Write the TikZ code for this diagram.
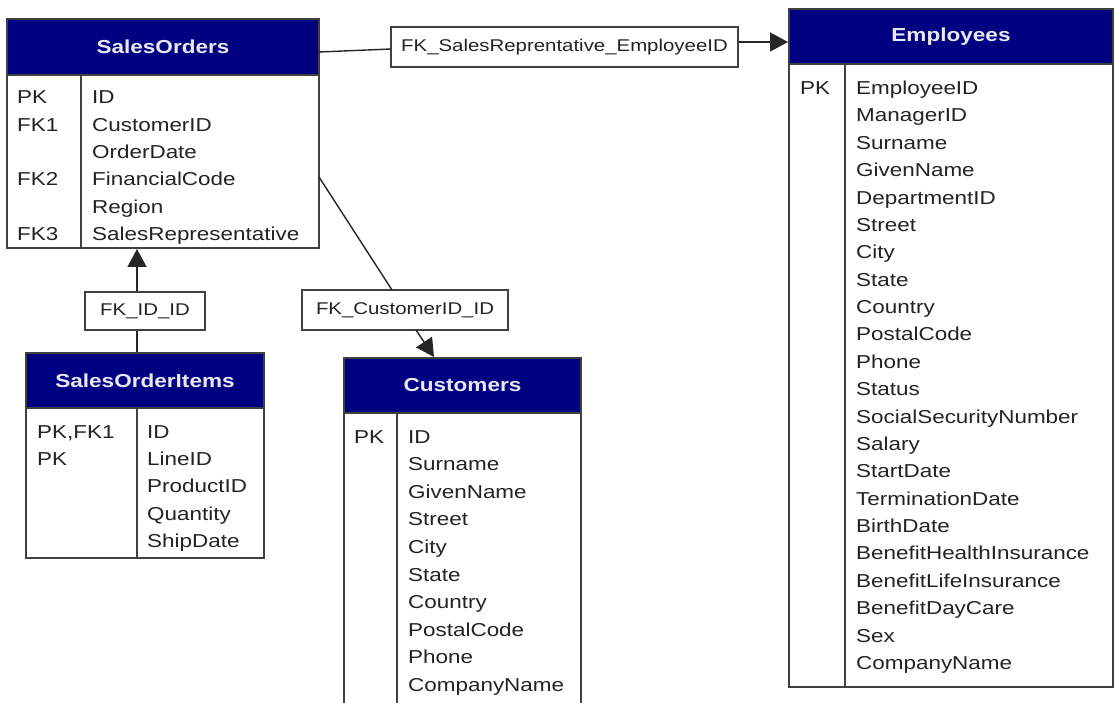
\documentclass[tikz,border=0pt]{standalone}
\usepackage{fontspec}
\setmainfont[FakeStretch=1.2]{Liberation Sans}
\usetikzlibrary{arrows.meta,calc}
\definecolor{hdrblue}{RGB}{0,0,128}
\definecolor{hdrtext}{RGB}{232,232,246}
\definecolor{edge}{RGB}{64,64,64}
\definecolor{txt}{RGB}{35,35,35}
\tikzset{
  hdr/.style={draw=edge, line width=2pt, fill=hdrblue, text=hdrtext, inner sep=0pt,
    font=\fontsize{18.8pt}{20pt}\selectfont\bfseries},
  tbody/.style={draw=edge, line width=2pt, fill=white, inner sep=0pt},
  fld/.style={anchor=base west, inner sep=0pt, text=txt, font=\fontsize{18.7pt}{20pt}\selectfont},
  lbl/.style={draw=edge, line width=1.5pt, fill=white, inner sep=0pt, text=txt,
    font=\fontsize{17pt}{19pt}\selectfont},
  divider/.style={draw=edge, line width=2pt},
  conn/.style={draw=black!85, line width=1.4pt},
  arr/.style={-{Triangle[length=18pt,width=19pt]}}
}
\begin{document}
\begin{tikzpicture}[x=1pt,y=-1pt]
\useasboundingbox (0,0) rectangle (1116,703);
\clip (0,0) rectangle (1116,703);

% ---------- SalesOrders ----------
\node[tbody, minimum width=312pt, minimum height=173pt] (sob) at (163,161.5) {};
\node[hdr, minimum width=312pt, minimum height=56pt] (soh) at (163,47) {SalesOrders};
\draw[divider] (81,75) -- (81,248);
\foreach \k/\i in {PK/0,FK1/1,FK2/3,FK3/5}
  \node[fld] (sok\i) at (17,{104+27.3*\i}) {\k};
\foreach \t [count=\i from 0] in {ID,CustomerID,OrderDate,FinancialCode,Region,SalesRepresentative}
  \node[fld] (sof\i) at (92,{104+27.3*\i}) {\t};

% ---------- Employees ----------
\node[tbody, minimum width=324pt, minimum height=623pt] (emb) at (951,375.5) {};
\node[hdr, minimum width=324pt, minimum height=55pt] (emh) at (951,36.5) {Employees};
\draw[divider] (845,64) -- (845,687);
\node[fld] (emk0) at (800,94.5) {PK};
\foreach \t [count=\i from 0] in {EmployeeID,ManagerID,Surname,GivenName,DepartmentID,Street,City,State,Country,PostalCode,Phone,Status,SocialSecurityNumber,Salary,StartDate,TerminationDate,BirthDate,BenefitHealthInsurance,BenefitLifeInsurance,BenefitDayCare,Sex,CompanyName}
  \node[fld] (emf\i) at (856,{94.5+27.38*\i}) {\t};

% ---------- SalesOrderItems ----------
\node[tbody, minimum width=238pt, minimum height=150pt] (soib) at (145,483) {};
\node[hdr, minimum width=238pt, minimum height=55pt] (soih) at (145,380.5) {SalesOrderItems};
\draw[divider] (137,408) -- (137,558);
\node[fld] (soik0) at (37,438) {PK,FK1};
\node[fld] (soik1) at (37,465.4) {PK};
\foreach \t [count=\i from 0] in {ID,LineID,ProductID,Quantity,ShipDate}
  \node[fld] (soif\i) at (147,{438+27.4*\i}) {\t};

% ---------- Customers ----------
\node[tbody, minimum width=237pt, minimum height=320pt] (cub) at (462.5,573) {};
\node[hdr, minimum width=237pt, minimum height=55pt] (cuh) at (462.5,385.5) {Customers};
\draw[divider] (397,413) -- (397,740);
\node[fld] (cuk0) at (354,443) {PK};
\foreach \t [count=\i from 0] in {ID,Surname,GivenName,Street,City,State,Country,PostalCode,Phone,CompanyName}
  \node[fld] (cuf\i) at (408,{443+27.6*\i}) {\t};

% ---------- Relationship labels ----------
\node[lbl, minimum width=347pt, minimum height=40pt] (l1) at (564.5,47) {FK\_SalesReprentative\_EmployeeID};
\node[lbl, minimum width=120pt, minimum height=38pt] (l2) at (145,311) {FK\_ID\_ID};
\node[lbl, minimum width=206pt, minimum height=40pt] (l3) at (405,310) {FK\_CustomerID\_ID};

% ---------- Connectors ----------
\coordinate (c1a) at (319,52);
\coordinate (c1b) at (391,49);
\draw[conn] (c1a) -- (c1b);
\draw[conn,arr] (l1.east |- 0,42) -- (emh.west |- 0,42);

\draw[conn] (soih.north -| 137,0) -- (l2.south -| 137,0);
\draw[conn,arr] (l2.north -| 137,0) -- (sob.south -| 137,0);

\coordinate (c3a) at (319,177);
\coordinate (c3b) at (392,290);
\draw[conn] (c3a) -- (c3b);
\coordinate (c3c) at (416,330);
\draw[conn,arr] (c3c) -- (cuh.north -| 434,0);
\end{tikzpicture}
\end{document}
